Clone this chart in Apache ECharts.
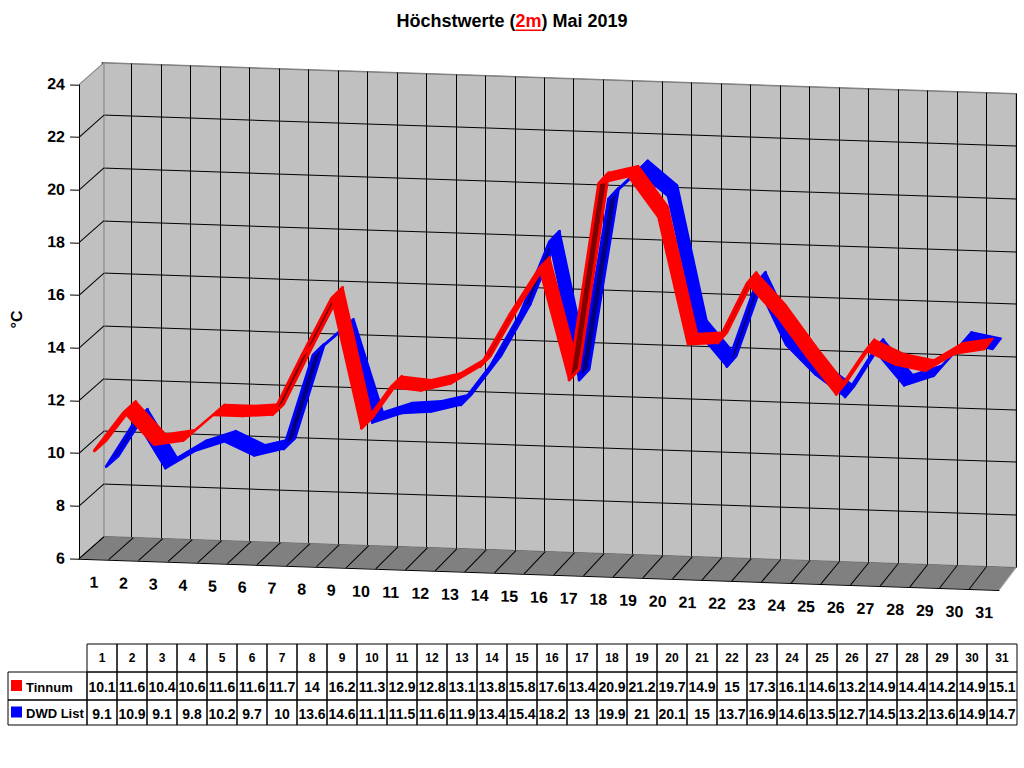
<!DOCTYPE html>
<html>
<head>
<meta charset="utf-8">
<title>Höchstwerte (2m) Mai 2019</title>
<script src="https://cdn.jsdelivr.net/npm/echarts/dist/echarts.min.js"></script>
<style>
body { margin: 0; background: #fff; }
#page { position: absolute; left: 0; top: 0; width: 1024px; height: 768px; }
/* the plot leans like the old 3D chart: a slight skew along y */
#plot { position: absolute; left: 0; top: 0; width: 1024px; height: 640px;
        transform-origin: 0 0; transform: matrix(1, 0.034, 0, 1, 0, 0); }
</style>
</head>
<body>
<div id="page"></div>
<div id="plot"></div>
<script>
var days = ['1','2','3','4','5','6','7','8','9','10','11','12','13','14','15','16',
            '17','18','19','20','21','22','23','24','25','26','27','28','29','30','31'];
var tinnum = [10.1, 11.6, 10.4, 10.6, 11.6, 11.6, 11.7, 14, 16.2, 11.3, 12.9, 12.8, 13.1, 13.8, 15.8, 17.6,
              13.4, 20.9, 21.2, 19.7, 14.9, 15, 17.3, 16.1, 14.6, 13.2, 14.9, 14.4, 14.2, 14.9, 15.1];
var dwdList = [9.1, 10.9, 9.1, 9.8, 10.2, 9.7, 10, 13.6, 14.6, 11.1, 11.5, 11.6, 11.9, 13.4, 15.4, 18.2,
               13, 19.9, 21, 20.1, 15, 13.7, 16.9, 14.6, 13.5, 12.7, 14.5, 13.2, 13.6, 14.9, 14.7];
var yTicks = [6, 8, 10, 12, 14, 16, 18, 20, 22, 24];
var seriesNames = ['Tinnum', 'DWD List'];

var FONT = '"Liberation Sans", Arial, sans-serif';
var yMin = yTicks[0], yMax = yTicks[yTicks.length - 1];

// front plane / back wall geometry (px, before skew)
var FRONT_LEFT = 77, FRONT_W = 922, BACK_W = 914;
var DEPTH_X = 25, DEPTH_Y = -23;

function depth(x, f) {
    var dx = DEPTH_X - (FRONT_W - BACK_W) * (x - FRONT_LEFT) / FRONT_W;
    return [dx * f, DEPTH_Y * f];
}

function ribbon(vals, f0, f1, light, dark) {
    return function (params, api) {
        var i = params.dataIndex;
        if (i >= vals.length - 1) return null;
        var p0 = api.coord([i, vals[i]]);
        var p1 = api.coord([i + 1, vals[i + 1]]);
        var a0 = depth(p0[0], f0), a1 = depth(p1[0], f0);
        var b0 = depth(p0[0], f1), b1 = depth(p1[0], f1);
        var pts = [
            [p0[0] + a0[0], p0[1] + a0[1]],
            [p1[0] + a1[0], p1[1] + a1[1]],
            [p1[0] + b1[0], p1[1] + b1[1]],
            [p0[0] + b0[0], p0[1] + b0[1]]
        ];
        var dv = depth(p0[0], 1);
        var under = (p1[0] - p0[0]) * dv[1] - (p1[1] - p0[1]) * dv[0] > 0;
        return {
            type: 'polygon',
            shape: { points: pts },
            style: { fill: under ? dark : light, stroke: light, lineWidth: under ? 3 : 2, lineJoin: 'round' }
        };
    };
}

function floorItem(params, api) {
    var i = params.dataIndex;
    var c = api.coord([i, yMin]);
    var w = api.size([1, 0])[0];
    var xl = c[0] - w / 2, xr = c[0] + w / 2, y = c[1];
    var dl = depth(xl, 1), dr = depth(xr, 1);
    var kids = [
        { type: 'polygon',
          shape: { points: [[xl, y], [xr, y], [xr + dr[0], y + dr[1]], [xl + dl[0], y + dl[1]]] },
          style: { fill: '#808080', stroke: '#808080', lineWidth: 0.5 } },
        { type: 'line', shape: { x1: xl, y1: y, x2: xl + dl[0], y2: y + dl[1] },
          style: { stroke: '#000', lineWidth: 1 } }
    ];
    if (i === days.length - 1) {
        kids.push({ type: 'line', shape: { x1: xr, y1: y, x2: xr + dr[0], y2: y + dr[1] },
                    style: { stroke: '#a0a0a0', lineWidth: 1 } });
    }
    return { type: 'group', children: kids };
}

function wallItem(params, api) {
    var v = yTicks[params.dataIndex];
    var w = api.size([1, 0])[0];
    var c = api.coord([0, v]);
    var x = c[0] - w / 2;
    var d = depth(x, 1);
    var kids = [];
    if (params.dataIndex === 0) {
        var top = api.coord([0, yMax])[1];
        kids.push({ type: 'polygon',
                    shape: { points: [[x, c[1]], [x, top], [x + d[0], top + d[1]], [x + d[0], c[1] + d[1]]] },
                    style: { fill: '#c0c0c0' } });
        kids.push({ type: 'line', shape: { x1: x + d[0], y1: top + d[1], x2: x + d[0], y2: c[1] + d[1] },
                    style: { stroke: '#808080', lineWidth: 1 } });
    }
    kids.push({ type: 'line', shape: { x1: x, y1: c[1], x2: x + d[0], y2: c[1] + d[1] },
                style: { stroke: params.dataIndex === yTicks.length - 1 ? '#808080' : '#000', lineWidth: 1 } });
    return { type: 'group', children: kids };
}

var plot = echarts.init(document.getElementById('plot'), null, { renderer: 'svg' });
var labelStyle = { color: '#000', fontWeight: 'bold', fontSize: 16, fontFamily: FONT };

plot.setOption({
    animation: false,
    grid: [
        { left: FRONT_LEFT, top: 82, width: FRONT_W, height: 474 },
        { left: FRONT_LEFT + DEPTH_X, top: 82 + DEPTH_Y, width: BACK_W, height: 474,
          show: true, backgroundColor: '#c0c0c0', borderColor: '#808080', borderWidth: 1 }
    ],
    xAxis: [
        { gridIndex: 0, type: 'category', data: days, boundaryGap: true, z: 10,
          axisLine: { lineStyle: { color: '#000', width: 1 } },
          axisTick: { interval: 0, length: 10, lineStyle: { color: '#000' } },
          axisLabel: Object.assign({ interval: 0, margin: 15 }, labelStyle),
          splitLine: { show: false } },
        { gridIndex: 1, type: 'category', data: days, boundaryGap: true,
          axisLine: { show: false }, axisTick: { show: false }, axisLabel: { show: false },
          splitLine: { show: true, interval: 0, lineStyle: { color: '#000', width: 1 } } }
    ],
    yAxis: [
        { gridIndex: 0, type: 'value', min: yMin, max: yMax, interval: 2, z: 10,
          axisLine: { show: true, lineStyle: { color: '#000' } },
          axisTick: { show: true, length: 9, lineStyle: { color: '#000' } },
          axisLabel: Object.assign({ margin: 14 }, labelStyle),
          splitLine: { show: false },
          name: '°C', nameLocation: 'middle', nameGap: 55, nameRotate: 90,
          nameTextStyle: { color: '#000', fontWeight: 'bold', fontSize: 16, fontFamily: FONT } },
        { gridIndex: 1, type: 'value', min: yMin, max: yMax, interval: 2,
          axisLine: { show: false }, axisTick: { show: false }, axisLabel: { show: false },
          splitLine: { show: true, lineStyle: { color: ['#000', '#000', '#000', '#000', '#000',
                                                        '#000', '#000', '#000', '#000', '#808080'] } } }
    ],
    series: [
        { type: 'custom', name: 'floor', xAxisIndex: 0, yAxisIndex: 0, z: 1, silent: true, clip: false,
          renderItem: floorItem, data: days.map(function (d, i) { return [i, yMin]; }), encode: { x: 0, y: 1 } },
        { type: 'custom', name: 'wall', xAxisIndex: 0, yAxisIndex: 0, z: 1, silent: true, clip: false,
          renderItem: wallItem, data: yTicks.map(function (v) { return [0, v]; }), encode: { x: 0, y: 1 } },
        { type: 'custom', name: seriesNames[1], xAxisIndex: 0, yAxisIndex: 0, z: 3, clip: false,
          renderItem: ribbon(dwdList, 0.5, 0.98, '#0000ff', '#000080'),
          data: dwdList.map(function (v, i) { return [i, v]; }), encode: { x: 0, y: 1 } },
        { type: 'custom', name: seriesNames[0], xAxisIndex: 0, yAxisIndex: 0, z: 4, clip: false,
          renderItem: ribbon(tinnum, 0.02, 0.5, '#ff0000', '#800000'),
          data: tinnum.map(function (v, i) { return [i, v]; }), encode: { x: 0, y: 1 } }
    ]
});

// title and data table
var page = echarts.init(document.getElementById('page'), null, { renderer: 'svg' });
var ctx = document.createElement('canvas').getContext('2d');
var titleFont = 'bold 18px ' + FONT;
ctx.font = titleFont;
var t1 = 'Höchstwerte (', t2 = '2m', t3 = ') Mai 2019';
var w1 = ctx.measureText(t1).width, w2 = ctx.measureText(t2).width, w3 = ctx.measureText(t3).width;
var tx = 512 - (w1 + w2 + w3) / 2, ty = 21;

var els = [
    { type: 'text', style: { text: t1, x: tx, y: ty, font: titleFont, fill: '#000', textVerticalAlign: 'middle' } },
    { type: 'text', style: { text: t2, x: tx + w1, y: ty, font: titleFont, fill: '#ff0000', textVerticalAlign: 'middle' } },
    { type: 'rect', shape: { x: tx + w1, y: 29.5, width: w2, height: 1.5 }, style: { fill: '#ff0000' } },
    { type: 'text', style: { text: t3, x: tx + w1 + w2, y: ty, font: titleFont, fill: '#000', textVerticalAlign: 'middle' } }
];

var colX = 87, colW = 30, labelX = 8;
var rowY = [644, 672, 700], rowH = [28, 28, 25];
var rows = [tinnum, dwdList];
var rowColors = ['#ff0000', '#0000ff'];
var cellStyle = { fill: 'none', stroke: '#000', lineWidth: 1 };

days.forEach(function (d, i) {
    els.push({ type: 'rect', shape: { x: colX + i * colW, y: rowY[0], width: colW, height: rowH[0] }, style: cellStyle });
    els.push({ type: 'text', style: { text: d, x: colX + i * colW + colW / 2, y: rowY[0] + rowH[0] / 2,
               font: 'bold 12px ' + FONT, fill: '#000', textAlign: 'center', textVerticalAlign: 'middle' } });
});
rows.forEach(function (vals, r) {
    var y = rowY[r + 1], h = rowH[r + 1];
    els.push({ type: 'rect', shape: { x: labelX, y: y, width: colX - labelX, height: h }, style: cellStyle });
    els.push({ type: 'rect', shape: { x: 11, y: y + h / 2 - 6, width: 11, height: 11 }, style: { fill: rowColors[r] } });
    els.push({ type: 'text', style: { text: seriesNames[r], x: 26, y: y + h / 2 + 1,
               font: 'bold 13px ' + FONT, fill: '#000', textVerticalAlign: 'middle' } });
    vals.forEach(function (v, i) {
        els.push({ type: 'rect', shape: { x: colX + i * colW, y: y, width: colW, height: h }, style: cellStyle });
        els.push({ type: 'text', style: { text: String(v), x: colX + i * colW + colW / 2, y: y + h / 2 + 1,
                   font: 'bold 14px ' + FONT, fill: '#000', textAlign: 'center', textVerticalAlign: 'middle' } });
    });
});

page.setOption({ animation: false, graphic: { elements: els } });
</script>
</body>
</html>
